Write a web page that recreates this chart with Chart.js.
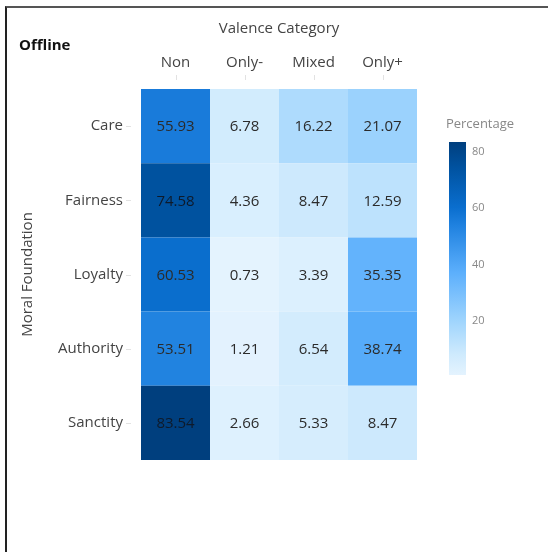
<!DOCTYPE html>
<html>
<head>
<meta charset="utf-8">
<script src="https://cdn.jsdelivr.net/npm/chart.js@4.4.1/dist/chart.umd.min.js"></script>
<style>
  html, body { margin: 0; padding: 0; background: #fff; }
  #wrap { position: relative; width: 548px; height: 552px; }
  #frame { position: absolute; left: 5px; top: 6px; width: 543px; height: 546px;
           border-top: 2px solid #555; border-left: 2px solid #222; box-sizing: border-box; pointer-events: none; }
</style>
</head>
<body>
<div id="wrap">
  <canvas id="heat" width="548" height="552"></canvas>
  <div id="frame"></div>
</div>
<script>
const ROWS = ['Care', 'Fairness', 'Loyalty', 'Authority', 'Sanctity'];
const COLS = ['Non', 'Only-', 'Mixed', 'Only+'];
const NON = [55.93, 74.58, 60.53, 53.51, 83.54];
const ONLY_NEG = [6.78, 4.36, 0.73, 1.21, 2.66];
const MIXED = [16.22, 8.47, 3.39, 6.54, 5.33];
const ONLY_POS = [21.07, 12.59, 35.35, 38.74, 8.47];
const CB_TICKS = [20, 40, 60, 80];

const columns = [NON, ONLY_NEG, MIXED, ONLY_POS];
const all = columns.flat();
const zmin = Math.min(...all);
const zmax = Math.max(...all);

// colour scale, light to dark blue
const stops = [
  [0, [228, 243, 254]],
  [0.09, [206, 234, 253]],
  [0.23, [160, 213, 253]],
  [0.44, [92, 175, 252]],
  [0.64, [32, 130, 224]],
  [0.72, [10, 110, 206]],
  [0.89, [0, 82, 160]],
  [1, [0, 63, 126]]
];

function colorFor(v) {
  const t = (v - zmin) / (zmax - zmin);
  for (let i = 1; i < stops.length; i++) {
    if (t <= stops[i][0]) {
      const a = stops[i - 1], b = stops[i];
      const f = (t - a[0]) / (b[0] - a[0]);
      const c = a[1].map((x, k) => Math.round(x + (b[1][k] - x) * f));
      return `rgb(${c[0]},${c[1]},${c[2]})`;
    }
  }
  return 'rgb(0,63,126)';
}

const FONT = "'Open Sans', sans-serif";

const heatPlugin = {
  id: 'heatExtras',
  afterDatasetsDraw(chart) {
    const ctx = chart.ctx;
    ctx.save();
    ctx.font = `15px ${FONT}`;
    ctx.textAlign = 'center';
    ctx.textBaseline = 'middle';
    chart.data.datasets.forEach((ds, di) => {
      chart.getDatasetMeta(di).data.forEach((bar, ri) => {
        const p = bar.getProps(['x', 'y', 'base'], true);
        const v = columns[di][ri];
        ctx.fillStyle = v > 70 ? '#0e1a2a' : '#2b2b2b';
        ctx.fillText(v.toFixed(2), (p.x + p.base) / 2, p.y + 1);
      });
    });
    ctx.restore();
  },
  afterDraw(chart) {
    const ctx = chart.ctx;
    const xs = chart.scales.x, ys = chart.scales.y;
    ctx.save();
    // short tick marks
    ctx.strokeStyle = '#e2e2e2';
    ctx.lineWidth = 1;
    COLS.forEach((c, i) => {
      const px = Math.round(xs.getPixelForValue(i + 0.5)) + 0.5;
      ctx.beginPath(); ctx.moveTo(px, 75); ctx.lineTo(px, 80); ctx.stroke();
    });
    ROWS.forEach((r, i) => {
      const py = Math.round(ys.getPixelForValue(i)) + 0.5;
      ctx.beginPath(); ctx.moveTo(126, py); ctx.lineTo(131, py); ctx.stroke();
    });

    // title
    ctx.fillStyle = '#111';
    ctx.font = `bold 15px ${FONT}`;
    ctx.textAlign = 'left';
    ctx.textBaseline = 'middle';
    ctx.fillText('Offline', 19, 46);

    // colour bar
    const cbL = 449, cbW = 17, cbTop = 142, cbBot = 375;
    const g = ctx.createLinearGradient(0, cbBot, 0, cbTop);
    stops.forEach(s => g.addColorStop(s[0], `rgb(${s[1].join(',')})`));
    ctx.fillStyle = g;
    ctx.fillRect(cbL, cbTop, cbW, cbBot - cbTop);
    ctx.fillStyle = '#888';
    ctx.font = `11px ${FONT}`;
    ctx.textAlign = 'left';
    CB_TICKS.forEach(t => {
      const py = cbBot - (t - zmin) / (zmax - zmin) * (cbBot - cbTop);
      ctx.fillText(String(t), cbL + 23, py);
    });
    ctx.font = `13px ${FONT}`;
    ctx.textAlign = 'center';
    ctx.fillText('Percentage', 480, 124);
    ctx.restore();
  }
};

new Chart(document.getElementById('heat'), {
  type: 'bar',
  data: {
    labels: ROWS,
    datasets: columns.map((col, i) => ({
      label: COLS[i],
      data: col.map(() => [i, i + 1]),
      backgroundColor: col.map(colorFor),
      borderWidth: 0,
      inflateAmount: 0,
      barPercentage: 1,
      categoryPercentage: 1,
      grouped: false
    }))
  },
  options: {
    indexAxis: 'y',
    responsive: false,
    animation: false,
    layout: { padding: { left: 10, right: 131, top: 10, bottom: 92 } },
    plugins: { legend: { display: false }, tooltip: { enabled: false } },
    scales: {
      x: {
        type: 'linear',
        position: 'top',
        min: 0,
        max: 4,
        afterBuildTicks: s => { s.ticks = COLS.map((c, i) => ({ value: i + 0.5 })); },
        afterFit: s => { s.height = 79; },
        ticks: {
          callback: (v, i) => COLS[i],
          color: '#444',
          font: { family: FONT, size: 15 },
          padding: 17
        },
        grid: { display: false, drawTicks: false },
        border: { display: false },
        title: {
          display: true,
          text: 'Valence Category',
          color: '#444',
          font: { family: FONT, size: 15 },
          padding: { top: 10, bottom: 0 }
        }
      },
      y: {
        type: 'category',
        offset: true,
        afterFit: s => { s.width = 131; },
        ticks: {
          color: '#444',
          font: { family: FONT, size: 15 },
          padding: 18
        },
        grid: { display: false, drawTicks: false },
        border: { display: false },
        title: {
          display: true,
          text: 'Moral Foundation',
          color: '#444',
          font: { family: FONT, size: 15 },
          padding: { top: 9, bottom: 0 }
        }
      }
    }
  },
  plugins: [heatPlugin]
});
</script>
</body>
</html>
